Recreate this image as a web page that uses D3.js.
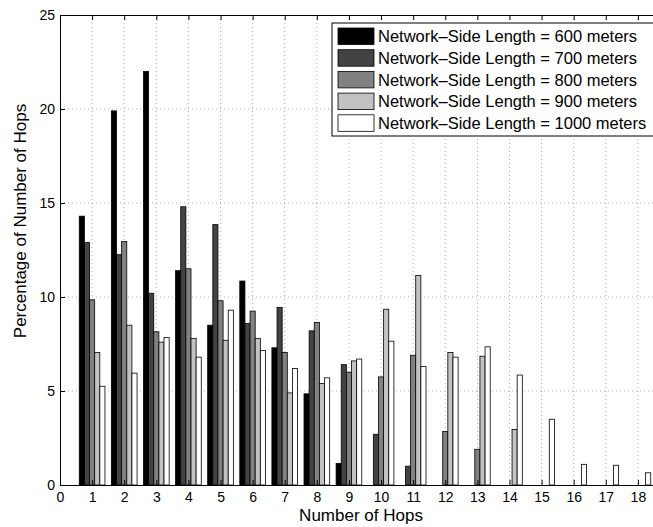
<!DOCTYPE html>
<html>
<head>
<meta charset="utf-8">
<script src="https://cdn.jsdelivr.net/npm/d3@7"></script>
<style>
  body { margin: 0; background: #fff; }
  svg { font-family: "Liberation Sans", Arial, Helvetica, sans-serif; }
</style>
</head>
<body>
<div id="chart"></div>
<script>
// number of hops (x categories)
let hops = d3.range(1, 19);

// percentage per hop count, one array per network side length
let s600  = [14.3, 19.9, 22.0, 11.4, 8.5, 10.85, 7.3, 4.85, 1.15, 0, 0, 0, 0, 0, 0, 0, 0, 0];
let s700  = [12.9, 12.25, 10.2, 14.8, 13.85, 8.6, 9.45, 8.2, 6.4, 2.7, 1.0, 0, 0, 0, 0, 0, 0, 0];
let s800  = [9.85, 12.95, 8.15, 11.5, 9.8, 9.25, 7.05, 8.65, 6.0, 5.75, 6.9, 2.85, 1.9, 0, 0, 0, 0, 0];
let s900  = [7.05, 8.5, 7.6, 7.8, 7.7, 7.8, 4.9, 5.4, 6.6, 9.35, 11.15, 7.05, 6.85, 2.95, 0, 0, 0, 0];
let s1000 = [5.25, 5.95, 7.85, 6.8, 9.3, 7.15, 6.2, 5.7, 6.7, 7.65, 6.3, 6.8, 7.35, 5.85, 3.5, 1.1, 1.05, 0.65];

let seriesNames = ["Network\u2013Side Length = 600 meters", "Network\u2013Side Length = 700 meters",
                   "Network\u2013Side Length = 800 meters", "Network\u2013Side Length = 900 meters",
                   "Network\u2013Side Length = 1000 meters"];
let seriesVals = [s600, s700, s800, s900, s1000];
let xTicks = d3.range(0, 19);
let yTicks = [0, 5, 10, 15, 20, 25];

let W = 653, H = 527;
let margin = {left: 60, top: 15, right: 670, bottom: 485};

let svg = d3.select("#chart").append("svg")
    .attr("width", W)
    .attr("height", H);

let x = d3.scaleLinear().domain([0, 19]).range([margin.left, margin.right]);
let y = d3.scaleLinear().domain([0, 25]).range([margin.bottom, margin.top]);
let color = d3.scaleOrdinal().domain(seriesNames).range(["#000000", "#434343", "#818181", "#c2c2c2", "#ffffff"]);

let barW = 0.16;  // in x units, 5 bars = 0.8 group

// grid
let grid = svg.append("g");
grid.selectAll(".vg").data(xTicks.slice(1)).enter().append("line")
    .attr("x1", d => x(d)).attr("x2", d => x(d))
    .attr("y1", margin.top).attr("y2", margin.bottom)
    .attr("stroke", "#999").attr("stroke-width", 0.8).attr("stroke-dasharray", "1,3");
grid.selectAll(".hg").data(yTicks.slice(1, -1)).enter().append("line")
    .attr("x1", margin.left).attr("x2", W)
    .attr("y1", d => y(d)).attr("y2", d => y(d))
    .attr("stroke", "#999").attr("stroke-width", 0.8).attr("stroke-dasharray", "1,3");

// bars
seriesVals.forEach(function(vals, i) {
    let data = hops.map((h, j) => ({hop: h, v: vals[j]})).filter(d => d.v > 0);
    svg.append("g").selectAll("rect").data(data).enter().append("rect")
        .attr("x", d => x(d.hop + (i - 2.5) * barW))
        .attr("width", x(barW) - x(0))
        .attr("y", d => y(d.v))
        .attr("height", d => y(0) - y(d.v))
        .attr("fill", color(seriesNames[i]))
        .attr("stroke", "#000")
        .attr("stroke-width", 0.8);
});

// axes (ticks pointing inward, box)
let xAxis = svg.append("g")
    .attr("transform", `translate(0,${margin.bottom})`)
    .call(d3.axisBottom(x).tickValues(xTicks).tickSizeInner(-5).tickSizeOuter(0).tickPadding(6));
let xTop = svg.append("g")
    .attr("transform", `translate(0,${margin.top})`)
    .call(d3.axisTop(x).tickValues(xTicks).tickSizeInner(-5).tickSizeOuter(0).tickFormat(""));
let yAxis = svg.append("g")
    .attr("transform", `translate(${margin.left},0)`)
    .call(d3.axisLeft(y).tickValues(yTicks).tickSizeInner(-5).tickSizeOuter(0).tickPadding(5));

[xAxis, xTop, yAxis].forEach(function(a) {
    a.select(".domain").attr("stroke", "#000").attr("stroke-width", 1);
    a.selectAll(".tick line").attr("stroke", "#000");
    a.selectAll(".tick text").attr("fill", "#000").style("font-size", "14px");
});
xAxis.selectAll(".tick text").attr("dy", "0.75em");

// axis labels
svg.append("text")
    .attr("x", 361)
    .attr("y", 521)
    .attr("text-anchor", "middle")
    .style("font-size", "17px")
    .text("Number of Hops");

svg.append("text")
    .attr("transform", `translate(26,221) rotate(-90)`)
    .attr("text-anchor", "middle")
    .style("font-size", "17px")
    .text("Percentage of Number of Hops");

// legend
let legend = svg.append("g");
legend.append("rect")
    .attr("x", 332).attr("y", 23)
    .attr("width", 330).attr("height", 113)
    .attr("fill", "#fff").attr("stroke", "#000").attr("stroke-width", 1);

let rows = legend.selectAll(".row").data(seriesNames).enter().append("g")
    .attr("transform", (d, i) => `translate(0,${28 + i * 21.7})`);
rows.append("rect")
    .attr("x", 338).attr("y", 0)
    .attr("width", 36).attr("height", 16.5)
    .attr("fill", d => color(d))
    .attr("stroke", "#000").attr("stroke-width", 0.8);
rows.append("text")
    .attr("x", 378).attr("y", 8.5)
    .attr("dy", "0.35em")
    .style("font-size", "16.5px")
    .text(d => d);
</script>
</body>
</html>
